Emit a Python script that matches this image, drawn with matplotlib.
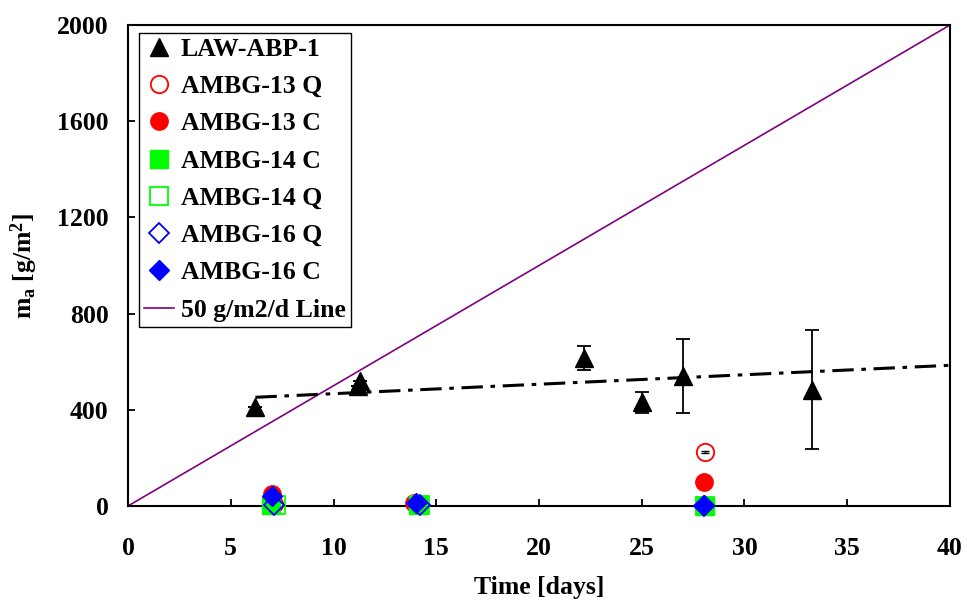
import matplotlib.pyplot as plt
import numpy as np

# LAW-ABP-1 measurements
law_days = [6.2, 11.2, 11.3, 22.2, 25.0, 27.0, 33.3]
law_ma = [412, 500, 518, 614, 432, 539, 483]
law_err = [0, 0, 0, 50, 44, 154, 248]

# trend line through LAW-ABP-1
trend_days = [6.2, 40]
trend_ma = [452, 585]

# AMBG glasses
ambg13q_days = [7.1, 14.1, 28.1]
ambg13q_ma = [8, 6, 224]
ambg13q_err = [0, 0, 5]
ambg13c_days = [7.0, 13.9, 28.05]
ambg13c_ma = [50, 12, 100]
ambg14c_days = [6.95, 14.1, 28.1]
ambg14c_ma = [5, 6, 0]
ambg14q_days = [7.2, 14.2, 28.1]
ambg14q_ma = [5, 6, 0]
ambg16q_days = [7.1, 14.2, 28.05]
ambg16q_ma = [5, 4, 0]
ambg16c_days = [7.0, 14.0, 28.05]
ambg16c_ma = [40, 12, 2]

# 50 g/m2/d reference line
ref_days = [0, 40]
ref_ma = [0, 2000]

xticks = [0, 5, 10, 15, 20, 25, 30, 35, 40]
yticks = [0, 400, 800, 1200, 1600, 2000]


def main():
    plt.rcParams['font.family'] = ['Liberation Serif', 'DejaVu Serif']
    plt.rcParams['font.weight'] = 'bold'
    plt.rcParams['mathtext.default'] = 'regular'

    fig = plt.figure(figsize=(9.67, 6.03), dpi=100)
    ax = fig.add_axes([0.1324, 0.1609, 0.85, 0.7976])

    ax.plot(ref_days, ref_ma, color='#800080', lw=1.2, zorder=2,
            label='50 g/m2/d Line')
    ax.plot(trend_days, trend_ma, color='black', lw=2.2,
            dashes=(7, 2.5, 1.5, 2.5), zorder=2)

    # error bars drawn separately so the legend keeps plain markers
    ax.errorbar(law_days, law_ma, yerr=law_err, fmt='none', ecolor='black',
                elinewidth=1.3, capsize=5, capthick=1.3, zorder=3)
    ax.plot(law_days, law_ma, '^', color='black', ms=13, zorder=4,
            label='LAW-ABP-1')

    ax.errorbar(ambg13q_days, ambg13q_ma, yerr=ambg13q_err, fmt='none',
                ecolor='black', elinewidth=1, capsize=3, zorder=6)
    ax.plot(ambg13q_days, ambg13q_ma, 'o', mfc='white', mec='red', mew=1.3,
            ms=12.5, zorder=5, clip_on=False, label='AMBG-13 Q')
    ax.plot(ambg13c_days, ambg13c_ma, 'o', color='red', ms=12.5,
            zorder=6, clip_on=False, label='AMBG-13 C')
    ax.plot(ambg14c_days, ambg14c_ma, 's', color='#00FF00', ms=13,
            zorder=7, clip_on=False, label='AMBG-14 C')
    ax.plot(ambg14q_days, ambg14q_ma, 's', mfc='none', mec='#00FF00',
            mew=1.3, ms=13, zorder=8, clip_on=False, label='AMBG-14 Q')
    ax.plot(ambg16q_days, ambg16q_ma, 'D', mfc='none', mec='blue',
            mew=1.3, ms=10, zorder=9, clip_on=False, label='AMBG-16 Q')
    ax.plot(ambg16c_days, ambg16c_ma, 'D', color='blue', ms=10,
            zorder=10, clip_on=False, label='AMBG-16 C')

    ax.set_xlim(0, 40)
    ax.set_ylim(0, 2000)
    ax.set_xticks(xticks)
    ax.set_yticks(yticks)
    ax.tick_params(direction='in', length=5, width=1.3, labelsize=18.5)
    ax.tick_params(axis='x', pad=22)
    ax.tick_params(axis='y', pad=14)
    for s in ax.spines.values():
        s.set_linewidth(1.5)

    ax.set_xlabel('Time [days]', fontsize=18.5, fontweight='bold', labelpad=12)
    ax.set_ylabel(r'm$_{a}$ [g/m$^{2}$]', fontsize=18.5, fontweight='bold',
                  labelpad=12)

    handles, labels = ax.get_legend_handles_labels()
    order = ['LAW-ABP-1', 'AMBG-13 Q', 'AMBG-13 C', 'AMBG-14 C',
             'AMBG-14 Q', 'AMBG-16 Q', 'AMBG-16 C', '50 g/m2/d Line']
    hmap = dict(zip(labels, handles))
    leg = ax.legend([hmap[k] for k in order], order, loc='upper left',
                    bbox_to_anchor=(0.0134, 0.984), fontsize=18.5,
                    frameon=True, fancybox=False, edgecolor='black',
                    framealpha=1, borderpad=0.2, labelspacing=0.555,
                    handlelength=1.17, handletextpad=0.25, borderaxespad=0)
    leg.get_frame().set_linewidth(1)

    fig.savefig('out.png', dpi=100)
    print("Plot generated successfully.")


if __name__ == "__main__":
    main()
